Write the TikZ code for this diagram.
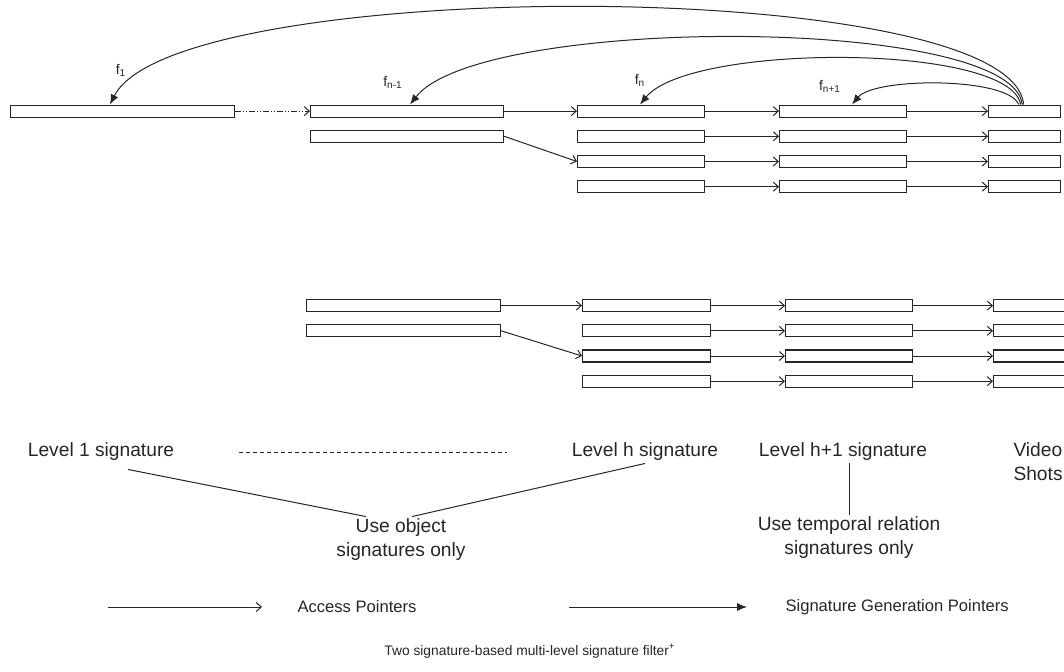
\documentclass[tikz,border=0pt]{standalone}
\usepackage{fontspec}
\setmainfont{Liberation Sans}
\usetikzlibrary{arrows.meta, positioning}

\begin{document}
\begin{tikzpicture}[
    x=0.5pt, y=-0.5pt,         % one unit = one pixel of the layout
    line width=0.5pt,
    draw=black!85
  ]

  %--- styles for boxes, pointers and labels ---
  \tikzset{
    sigbox/.style   ={rectangle, draw=black!85, line width=0.6pt, fill=white,
    minimum height=6pt, inner sep=0pt, anchor=north west},
    accPtr/.style   ={-{Straight Barb[length=2.5pt,width=4.5pt]}, draw=black!85},
    genPtr/.style   ={-{Latex[length=5pt,width=4pt]}, draw=black!85},
    levelText/.style={font=\fontsize{9.6}{12}\selectfont, align=center,
    inner sep=1pt, text=black!85},
    legendText/.style={font=\fontsize{8.3}{10}\selectfont, inner sep=0pt,
    text=black!85},
    fText/.style    ={font=\fontsize{7}{8}\selectfont, inner sep=0pt,
    text=black!85},
  }

  \useasboundingbox (0,0) rectangle (1064,671);

  %------------------------------------------------------------------------------
  % 1) Upper filter: level 1 ... n-1, n, n+1, video shots
  %------------------------------------------------------------------------------
  \node[sigbox, minimum width=112pt] (L1) at (10,104.5) {};

  \node[sigbox, minimum width=96.5pt] (A1) at (310,104.5) {};
  \node[sigbox, minimum width=96.5pt] (A2) [below=6pt of A1] {};

  \node[sigbox, minimum width=63.5pt] (B1) at (577,104.5) {};
  \node[sigbox, minimum width=63.5pt] (B2) [below=6pt of B1] {};
  \node[sigbox, minimum width=63.5pt] (B3) [below=6pt of B2] {};
  \node[sigbox, minimum width=63.5pt] (B4) [below=6pt of B3] {};

  \node[sigbox, minimum width=63.5pt] (C1) at (779,104.5) {};
  \node[sigbox, minimum width=63.5pt] (C2) [below=6pt of C1] {};
  \node[sigbox, minimum width=63.5pt] (C3) [below=6pt of C2] {};
  \node[sigbox, minimum width=63.5pt] (C4) [below=6pt of C3] {};

  \node[sigbox, minimum width=36pt] (D1) at (988,104.5) {};
  \node[sigbox, minimum width=36pt] (D2) [below=6pt of D1] {};
  \node[sigbox, minimum width=36pt] (D3) [below=6pt of D2] {};
  \node[sigbox, minimum width=36pt] (D4) [below=6pt of D3] {};

  % access pointers
  \draw[accPtr, densely dash dot dot] (L1.east) -- (A1.west);
  \draw[accPtr] (A1.east) -- (B1.west);
  \draw[accPtr] (A2.east) -- (B3.west);
  \draw[accPtr] (B1.east) -- (C1.west);
  \draw[accPtr] (B2.east) -- (C2.west);
  \draw[accPtr] (B3.east) -- (C3.west);
  \draw[accPtr] (B4.east) -- (C4.west);
  \draw[accPtr] (C1.east) -- (D1.west);
  \draw[accPtr] (C2.east) -- (D2.west);
  \draw[accPtr] (C3.east) -- (D3.west);
  \draw[accPtr] (C4.east) -- (D4.west);

  % signature generation pointers
  \draw[genPtr] ([xshift=-0.5pt]D1.north) .. controls (1012,-25) and (175,-25)
    .. ([xshift=50pt]L1.north west);
  \draw[genPtr] ([xshift=-1.2pt]D1.north) .. controls (1012,15) and (480,15)
    .. ([xshift=50pt]A1.north west);
  \draw[genPtr] ([xshift=-2pt]D1.north) .. controls (1010,43) and (690,43)
    .. ([xshift=31.5pt]B1.north west);
  \draw[genPtr] ([xshift=-3pt]D1.north) .. controls (1008,77) and (875,77)
    .. ([xshift=36.5pt]C1.north west);

  \node[fText] (f1)  at (121,70)  {f\textsubscript{1}};
  \node[fText] (fn1) at (393,82)  {f\textsubscript{n-1}};
  \node[fText] (fn)  at (640,80)  {f\textsubscript{n}};
  \node[fText] (fn2) at (830,86)  {f\textsubscript{n+1}};

  %------------------------------------------------------------------------------
  % 2) Lower filter: level h, h+1, video shots
  %------------------------------------------------------------------------------
  \node[sigbox, minimum width=97pt] (E1) at (306,299) {};
  \node[sigbox, minimum width=97pt] (E2) [below=6pt of E1] {};

  \node[sigbox, minimum width=64pt] (F1) at (582,299) {};
  \node[sigbox, minimum width=64pt] (F2) [below=6pt of F1] {};
  \node[sigbox, minimum width=64pt] (F3) [below=6pt of F2] {};
  \node[sigbox, minimum width=64pt] (F4) [below=6pt of F3] {};

  \node[sigbox, minimum width=63.5pt] (G1) at (785,299) {};
  \node[sigbox, minimum width=63.5pt] (G2) [below=6pt of G1] {};
  \node[sigbox, minimum width=63.5pt] (G3) [below=6pt of G2] {};
  \node[sigbox, minimum width=63.5pt] (G4) [below=6pt of G3] {};

  \node[sigbox, minimum width=45pt] (H1) at (993,299) {};
  \node[sigbox, minimum width=45pt] (H2) [below=6pt of H1] {};
  \node[sigbox, minimum width=45pt] (H3) [below=6pt of H2] {};
  \node[sigbox, minimum width=45pt] (H4) [below=6pt of H3] {};

  \draw[accPtr] (E1.east) -- (F1.west);
  \draw[accPtr] (E2.east) -- (F3.west);
  \draw[accPtr] (F1.east) -- (G1.west);
  \draw[accPtr] (F2.east) -- (G2.west);
  \draw[accPtr] (F3.east) -- (G3.west);
  \draw[accPtr] (F4.east) -- (G4.west);
  \draw[accPtr] (G1.east) -- (H1.west);
  \draw[accPtr] (G2.east) -- (H2.west);
  \draw[accPtr] (G3.east) -- (H3.west);
  \draw[accPtr] (G4.east) -- (H4.west);

  %------------------------------------------------------------------------------
  % 3) Level names and notes
  %------------------------------------------------------------------------------
  \node[levelText] (lvl1)  at (101,452) {Level 1 signature};
  \node[levelText] (lvlh)  at (645,452) {Level h signature};
  \node[levelText] (lvlh1) at (843,452) {Level h+1 signature};
  \node[levelText, align=left, anchor=west] (shots) at (1011,462)
  {Video\\Shots};

  \node[levelText] (objNote)  at (401,540) {Use object\\signatures only};
  \node[levelText] (tempNote) at (849,538) {Use temporal relation\\signatures only};

  \draw[dash pattern=on 2pt off 1.5pt, shorten <=31pt, shorten >=31pt]
  (lvl1) -- (lvlh);
  \draw ([xshift=13.5pt,yshift=-3pt]lvl1.south) -- ([xshift=-17.5pt]objNote.north);
  \draw ([xshift=5.5pt]objNote.north) -- (lvlh.south);
  \draw (lvlh1.south -| tempNote.north) -- (tempNote.north);

  %------------------------------------------------------------------------------
  % 4) Legend and caption
  %------------------------------------------------------------------------------
  \coordinate (acc0) at (108,607);
  \coordinate (acc1) at (262,607);
  \draw[accPtr] (acc0) -- (acc1);
  \node[legendText, anchor=west] (accText) [right=17.5pt of acc1] {Access Pointers};

  \coordinate (gen0) at (569,607);
  \coordinate (gen1) at (747,607);
  \draw[genPtr] (gen0) -- (gen1);
  \node[legendText, anchor=west] (genText) [right=19pt of gen1]
  {Signature Generation Pointers};

  \node[legendText, font=\fontsize{6.9}{8}\selectfont] (caption) at (530,651)
  {Two signature-based multi-level signature filter\textsuperscript{+}};

\end{tikzpicture}
\end{document}
